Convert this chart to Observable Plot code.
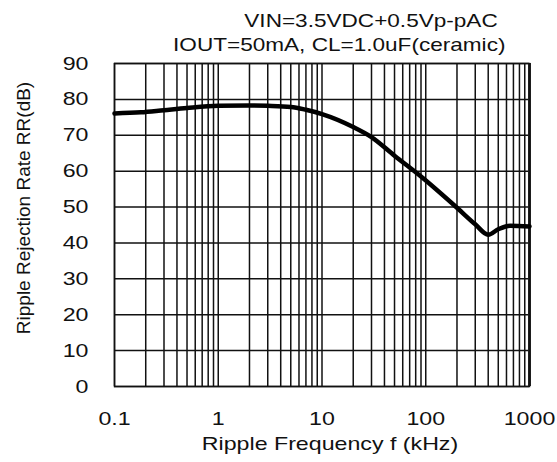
<!DOCTYPE html>
<html><head><meta charset="utf-8">
<script src="https://cdn.jsdelivr.net/npm/d3@7"></script>
<script src="https://cdn.jsdelivr.net/npm/@observablehq/plot@0.6"></script>
<style>
html,body{margin:0;padding:0;background:#fff;}
#wrap{position:relative;width:557px;height:462px;overflow:hidden;font-family:"Liberation Sans",Arial,sans-serif;color:#111;background:#fff}
#title{position:relative;height:50px}
.t{position:absolute;white-space:nowrap;font-size:18.5px;line-height:18.5px;transform-origin:right center}
#chart svg{display:block;background:transparent}
</style></head><body>
<div id="wrap">
  <div id="title"><span class="t" id="t1"></span><span class="t" id="t2"></span></div>
  <div id="chart"></div>
</div>
<script>
// ---- data ----
const titleLines = ["VIN=3.5VDC+0.5Vp-pAC", "IOUT=50mA, CL=1.0uF(ceramic)"];
const xLabel = "Ripple Frequency f (kHz)";
const yLabel = "Ripple Rejection Rate RR(dB)";
const xTicks = [0.1, 1, 10, 100, 1000];
const yTicks = [0, 10, 20, 30, 40, 50, 60, 70, 80, 90];
const freqKHz = [0.1, 0.18, 0.3, 0.5, 1, 2, 3, 5, 7, 10, 20, 30, 50, 90, 200, 300, 400, 500, 650, 1000];
const rrDB    = [76.1, 76.4, 77.0, 77.6, 78.2, 78.3, 78.2, 77.9, 77.1, 75.9, 72.3, 69.5, 64.3, 58.5, 49.8, 45.2, 42.3, 43.8, 44.8, 44.6];

const curve = freqKHz.map((f, i) => ({f, rr: rrDB[i]}));
const minorX = [];
for (const d of xTicks.slice(0, -1)) for (let m = 1; m <= 9; m++) minorX.push(+(d * m).toPrecision(3));
minorX.push(xTicks[xTicks.length - 1]);

const K = 1.22; // horizontal stretch of the reference's glyphs

const t1 = document.getElementById("t1"), t2 = document.getElementById("t2");
t1.textContent = titleLines[0]; t2.textContent = titleLines[1];
t1.style.right = (557 - 498) + "px"; t1.style.top = "12px";
t2.style.right = (557 - 505) + "px"; t2.style.top = "36px";
t1.style.transform = `scaleX(${K})`; t2.style.transform = `scaleX(${K})`;

const chart = Plot.plot({
  width: 557,
  height: 412,
  marginLeft: 114,
  marginRight: 28,
  marginTop: 13,
  marginBottom: 76,
  style: {fontFamily: "Liberation Sans, Arial, sans-serif", fontSize: "19px", color: "#111", background: "transparent", overflow: "visible"},
  x: {type: "log", domain: [0.1, 1000]},
  y: {domain: [0, 90]},
  marks: [
    Plot.ruleX(minorX, {stroke: "#111", strokeWidth: 1.5}),
    Plot.ruleY(yTicks, {stroke: "#111", strokeWidth: 1.5}),
    Plot.ruleX([1000], {stroke: "#222", strokeWidth: 3}),
    Plot.frame({stroke: "#111", strokeWidth: 1.5}),
    Plot.line(curve, {x: "f", y: "rr", stroke: "#000", strokeWidth: 4.5, curve: "monotone-x", strokeLinejoin: "round"}),
    Plot.axisX(xTicks, {tickSize: 0, tickPadding: 25, tickFormat: d => String(d), label: null, fontSize: 19}),
    Plot.axisY(yTicks, {tickSize: 0, tickPadding: 26, label: null, fontSize: 19}),
    Plot.text([xLabel], {frameAnchor: "bottom", dy: 63, dx: 8, fontSize: 19, fill: "#111"}),
    Plot.text([yLabel], {frameAnchor: "left", rotate: -90, textAnchor: "middle", dx: -91, dy: -17, fontSize: 19, fill: "#111", className: "ylab"})
  ]
});
document.getElementById("chart").appendChild(chart);

chart.querySelectorAll("text").forEach(t => {
  if (t.closest(".ylab")) return;
  const L = t.getComputedTextLength();
  if (L > 0) {
    t.setAttribute("textLength", (L * K).toFixed(2));
    t.setAttribute("lengthAdjust", "spacingAndGlyphs");
  }
});
</script>
</body></html>
